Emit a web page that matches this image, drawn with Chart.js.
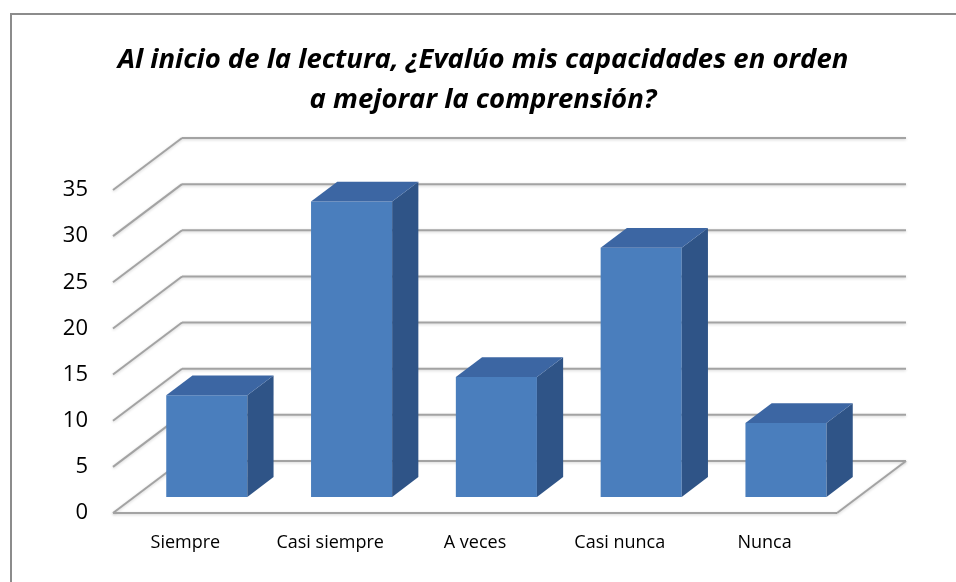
<!DOCTYPE html>
<html>
<head>
<meta charset="utf-8">
<script src="https://cdn.jsdelivr.net/npm/chart.js@4/dist/chart.umd.min.js"></script>
<style>
  html, body { margin: 0; padding: 0; background: #fff; }
</style>
</head>
<body>
<canvas id="chart" width="956" height="582"></canvas>
<script>
const categories = ["Siempre", "Casi siempre", "A veces", "Casi nunca", "Nunca"];
const values = [11, 32, 13, 27, 8];
const yTicks = [0, 5, 10, 15, 20, 25, 30, 35];
const titleLines = [
  "Al inicio de la lectura, ¿Evalúo mis capacidades en orden",
  "a mejorar la comprensión?"
];

// depth of the 3d floor, and where the bars sit inside it
const DEPTH_X = 69, DEPTH_Y = 52;
const BAR_FRONT = 0.31, BAR_BACK = 0.69;

const FRONT = "#4a7ebd", TOP = "#3c66a3", SIDE = "#2f5487";
const GRID = "#a3a3a3";

function line(ctx, x1, y1, x2, y2) {
  ctx.beginPath();
  ctx.moveTo(x1, y1);
  ctx.lineTo(x2, y2);
  ctx.stroke();
}

const box3d = {
  id: "box3d",
  beforeDraw(chart) {
    const ctx = chart.ctx;
    ctx.save();
    ctx.fillStyle = "#fff";
    ctx.fillRect(0, 0, chart.width, chart.height);
    ctx.strokeStyle = "#8c8c8c";
    ctx.lineWidth = 2;
    ctx.strokeRect(11, 14, chart.width + 20, chart.height + 20);
    ctx.restore();
  },
  beforeDatasetsDraw(chart) {
    const ctx = chart.ctx;
    const y = chart.scales.y;
    const { left, right } = chart.chartArea;
    ctx.save();
    ctx.strokeStyle = GRID;
    ctx.lineWidth = 2;
    ctx.shadowColor = "rgba(0,0,0,0.18)";
    ctx.shadowBlur = 3;
    ctx.shadowOffsetY = 1;
    yTicks.forEach((v) => {
      const py = y.getPixelForValue(v);
      line(ctx, left, py, left + DEPTH_X, py - DEPTH_Y);
      line(ctx, left + DEPTH_X, py - DEPTH_Y, right + DEPTH_X, py - DEPTH_Y);
    });
    // floor front and right edges
    const y0 = y.getPixelForValue(0);
    line(ctx, left, y0, right, y0);
    line(ctx, right, y0, right + DEPTH_X, y0 - DEPTH_Y);
    ctx.restore();

    // front faces of the bars are drawn by chart.js, pushed back into the depth
    ctx.save();
    ctx.translate(DEPTH_X * BAR_FRONT, -DEPTH_Y * BAR_FRONT);
  },
  afterDatasetsDraw(chart) {
    const ctx = chart.ctx;
    const dx = DEPTH_X * (BAR_BACK - BAR_FRONT);
    const dy = DEPTH_Y * (BAR_BACK - BAR_FRONT);
    chart.getDatasetMeta(0).data.forEach((bar) => {
      const { x, y, base, width } = bar.getProps(["x", "y", "base", "width"], true);
      const l = x - width / 2, r = x + width / 2;
      ctx.fillStyle = SIDE;
      ctx.beginPath();
      ctx.moveTo(r, y);
      ctx.lineTo(r + dx, y - dy);
      ctx.lineTo(r + dx, base - dy);
      ctx.lineTo(r, base);
      ctx.closePath();
      ctx.fill();
      ctx.fillStyle = TOP;
      ctx.beginPath();
      ctx.moveTo(l, y);
      ctx.lineTo(l + dx, y - dy);
      ctx.lineTo(r + dx, y - dy);
      ctx.lineTo(r, y);
      ctx.closePath();
      ctx.fill();
    });
    ctx.restore();
  }
};

new Chart(document.getElementById("chart"), {
  type: "bar",
  data: {
    labels: categories,
    datasets: [{
      data: values,
      backgroundColor: FRONT,
      borderWidth: 0,
      categoryPercentage: 1,
      barPercentage: 0.56
    }]
  },
  options: {
    responsive: false,
    animation: false,
    layout: { padding: { left: 10, right: 0, top: 0, bottom: 0 } },
    plugins: {
      legend: { display: false },
      tooltip: { enabled: false },
      title: {
        display: true,
        text: titleLines,
        color: "#000",
        font: { family: "'Open Sans', sans-serif", size: 27.5, weight: "bold", style: "italic", lineHeight: 40 / 27.5 },
        padding: { top: 40, bottom: 70 }
      }
    },
    scales: {
      x: {
        grid: { display: false },
        border: { display: false },
        ticks: { color: "#000", padding: 11, font: { family: "'Open Sans', sans-serif", size: 18 } },
        afterFit: (s) => { s.height = 69; }
      },
      y: {
        min: 0,
        max: 35,
        grid: { display: false, drawTicks: false },
        border: { display: false },
        ticks: { color: "#000", padding: 25, font: { family: "'Open Sans', sans-serif", size: 22 } },
        afterBuildTicks: (s) => { s.ticks = yTicks.map((v) => ({ value: v })); },
        afterFit: (s) => { s.width = 103; }
      },
      yPad: {
        position: "right",
        grid: { display: false },
        border: { display: false },
        ticks: { display: false },
        afterFit: (s) => { s.width = 119; }
      }
    }
  },
  plugins: [box3d]
});
</script>
</body>
</html>
